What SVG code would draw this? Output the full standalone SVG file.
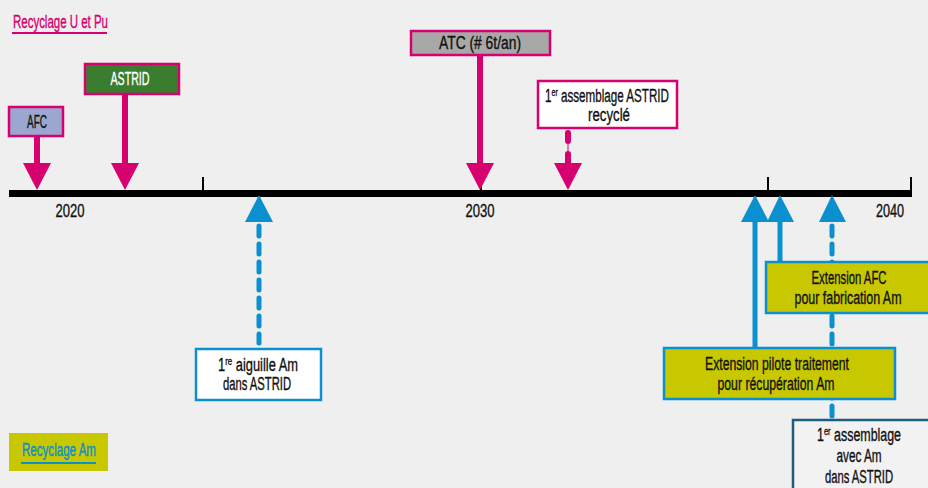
<svg xmlns="http://www.w3.org/2000/svg" width="928" height="488" viewBox="0 0 928 488">
<defs>
<style>
text{font-family:"Liberation Sans",Arimo,sans-serif;font-size:18px;color:#111;fill:currentColor;stroke:currentColor;stroke-width:0.35;text-anchor:middle}
.mg{stroke:#d6006f;stroke-width:2.5}
.bl{stroke:#0a8fcf;stroke-width:2.5}
.shm{stroke:#d6006f;stroke-width:6;fill:none}
.shb{stroke:#0a8fcf;stroke-width:5;fill:none}
.dsh{stroke-dasharray:10 8;stroke-linecap:round}
.hm{fill:#d6006f}
.hb{fill:#0a8fcf}
.yel{fill:#c8c800}
.sup{font-size:11px}
</style>
</defs>
<rect width="928" height="488" fill="#efefef"/>

<g id="legend-upu">
<text x="13" y="28" style="text-anchor:start;color:#d6006f" textLength="95" lengthAdjust="spacingAndGlyphs">Recyclage U et Pu</text>
<rect x="12" y="32" width="95" height="2" fill="#d6006f"/>
</g>

<g id="timeline">
<rect x="9" y="190" width="903" height="7" fill="#000"/>
<rect x="202" y="177" width="2" height="14" fill="#000"/>
<rect x="480" y="177" width="2" height="14" fill="#000"/>
<rect x="767" y="177" width="2" height="14" fill="#000"/>
<rect x="910" y="177" width="2" height="14" fill="#000"/>
<text x="70" y="217" textLength="29" lengthAdjust="spacingAndGlyphs">2020</text>
<text x="480" y="217" textLength="29" lengthAdjust="spacingAndGlyphs">2030</text>
<text x="890" y="217" textLength="28" lengthAdjust="spacingAndGlyphs">2040</text>
</g>

<g id="connectors">
<line x1="37" y1="136" x2="37" y2="165" class="shm"/>
<polygon points="23,163 51,163 37,190" class="hm"/>
<line x1="125" y1="94" x2="125" y2="165" class="shm"/>
<polygon points="111,163 139,163 125,190" class="hm"/>
<line x1="480" y1="55" x2="480" y2="165" class="shm"/>
<polygon points="466,163 494,163 480,190" class="hm"/>
<line x1="568" y1="133" x2="568" y2="141" class="shm" style="stroke-linecap:round"/>
<line x1="568" y1="141" x2="568" y2="153" stroke="#d6006f" stroke-width="1"/>
<line x1="568" y1="154" x2="568" y2="165" class="shm" style="stroke-linecap:round"/>
<polygon points="554,163 582,163 568,190" class="hm"/>

<line x1="259" y1="226" x2="259" y2="343" class="shb dsh"/>
<polygon points="245,222 273,222 259,195" class="hb"/>
<line x1="755" y1="220" x2="755" y2="348" class="shb"/>
<polygon points="741,222 769,222 755,195" class="hb"/>
<line x1="780" y1="220" x2="780" y2="262" class="shb"/>
<polygon points="767,222 794,222 780,195" class="hb"/>
<line x1="832" y1="226" x2="832" y2="416" class="shb dsh"/>
<polygon points="819,222 846,222 832,195" class="hb"/>
</g>

<g id="afc">
<rect x="9" y="107" width="54" height="29" fill="#9ba7d0" class="mg"/>
<text x="37" y="128" textLength="20" lengthAdjust="spacingAndGlyphs">AFC</text>
</g>
<g id="astrid">
<rect x="85" y="64" width="94" height="30" fill="#3b7d2f" class="mg"/>
<text x="130" y="85" style="color:#fff" textLength="39" lengthAdjust="spacingAndGlyphs">ASTRID</text>
</g>
<g id="atc">
<rect x="411" y="31" width="139" height="24" fill="#a8a8a8" class="mg"/>
<text x="480" y="49" textLength="82" lengthAdjust="spacingAndGlyphs">ATC (# 6t/an)</text>
</g>
<g id="premier-assemblage-recycle">
<rect x="538" y="81" width="139" height="47" fill="#fff" class="mg"/>
<text x="607" y="102" textLength="124" lengthAdjust="spacingAndGlyphs">1<tspan class="sup" dy="-6">er</tspan><tspan dy="6"> assemblage ASTRID</tspan></text>
<text x="609" y="121" textLength="42" lengthAdjust="spacingAndGlyphs">recyclé</text>
</g>

<g id="aiguille">
<rect x="196" y="349" width="125" height="51" fill="#fff" class="bl"/>
<text x="258" y="371" textLength="80" lengthAdjust="spacingAndGlyphs">1<tspan class="sup" dy="-6">re</tspan><tspan dy="6"> aiguille Am</tspan></text>
<text x="257" y="390" textLength="68" lengthAdjust="spacingAndGlyphs">dans ASTRID</text>
</g>
<g id="extension-afc">
<rect x="766" y="262" width="170" height="51" class="yel bl"/>
<text x="849" y="284" textLength="75" lengthAdjust="spacingAndGlyphs">Extension AFC</text>
<text x="848" y="304" textLength="107" lengthAdjust="spacingAndGlyphs">pour fabrication Am</text>
</g>
<g id="extension-pilote">
<rect x="664" y="348" width="231" height="51" class="yel bl"/>
<text x="777" y="370" textLength="144" lengthAdjust="spacingAndGlyphs">Extension pilote traitement</text>
<text x="776" y="390" textLength="117" lengthAdjust="spacingAndGlyphs">pour récupération Am</text>
</g>
<g id="premier-assemblage-am">
<rect x="793" y="420" width="140" height="75" fill="#f2f2f2" stroke="#1e5c7e" stroke-width="2.5"/>
<text x="859" y="441" textLength="84" lengthAdjust="spacingAndGlyphs">1<tspan class="sup" dy="-6">er</tspan><tspan dy="6"> assemblage</tspan></text>
<text x="859" y="462" textLength="45" lengthAdjust="spacingAndGlyphs">avec Am</text>
<text x="859" y="483" textLength="68" lengthAdjust="spacingAndGlyphs">dans ASTRID</text>
</g>

<g id="legend-am">
<rect x="9" y="433" width="99" height="38" class="yel"/>
<text x="59" y="456" style="color:#0a8fcf" textLength="74" lengthAdjust="spacingAndGlyphs">Recyclage Am</text>
<rect x="21" y="462" width="75" height="2" fill="#0a8fcf"/>
</g>
</svg>
